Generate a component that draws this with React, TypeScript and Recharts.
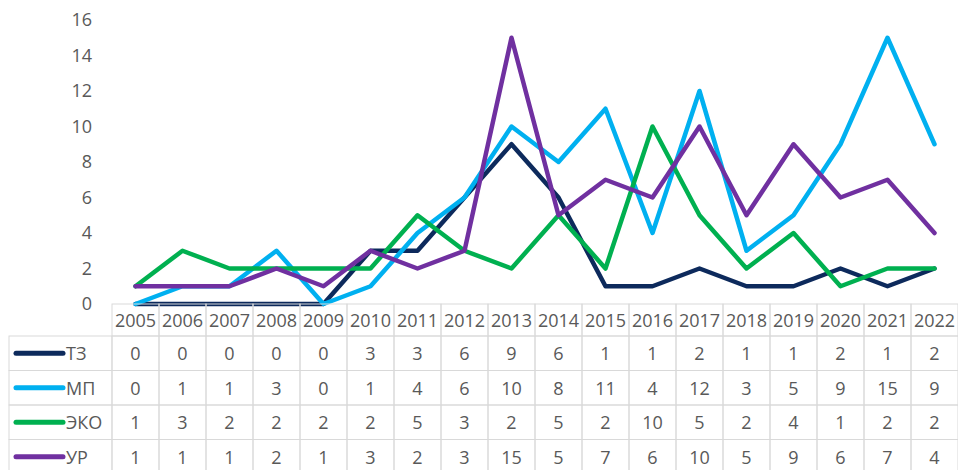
import React from 'react';
import { LineChart, Line, XAxis, YAxis } from 'recharts';

const years = ['2005','2006','2007','2008','2009','2010','2011','2012','2013','2014','2015','2016','2017','2018','2019','2020','2021','2022'];
const tz = [0,0,0,0,0,3,3,6,9,6,1,1,2,1,1,2,1,2];
const mp = [0,1,1,3,0,1,4,6,10,8,11,4,12,3,5,9,15,9];
const eko = [1,3,2,2,2,2,5,3,2,5,2,10,5,2,4,1,2,2];
const ur = [1,1,1,2,1,3,2,3,15,5,7,6,10,5,9,6,7,4];
const yTicks = [0,2,4,6,8,10,12,14,16];

const seriesNames = ['ТЗ', 'МП', 'ЭКО', 'УР'];
const seriesKeys = ['tz', 'mp', 'eko', 'ur'];
const seriesColors = ['#0d2a5c', '#00b0f0', '#00b050', '#7030a0'];
const seriesValues = [tz, mp, eko, ur];

const data = years.map((y, i) => ({ year: y, tz: tz[i], mp: mp[i], eko: eko[i], ur: ur[i] }));

const W = 958;
const H = 470;
const PLOT_LEFT = 112;
const PLOT_TOP = 20;
const AXIS_H = 166;
const BAND = (W - PLOT_LEFT) / years.length;
const HEADER_H = 32;
const ROW_H = 34.5;
const LEGEND_LEFT = 9;
const FONT = '"Open Sans", sans-serif';
const TEXT = '#595959';
const BORDER = '#d9d9d9';

const TableTick = (props: any) => {
  const { x, y, payload, index } = props;
  const i = payload && typeof payload.index === 'number' ? payload.index : index;
  const left = x - BAND / 2;
  const cells: any[] = [];
  cells.push(
    <rect key="h" x={left} y={y} width={BAND} height={HEADER_H} fill="none" stroke={BORDER} strokeWidth={1} />
  );
  cells.push(
    <text key="ht" x={x} y={y + HEADER_H / 2} textAnchor="middle" dominantBaseline="central" fontFamily={FONT} fontSize={18} fill={TEXT}>{payload.value}</text>
  );
  seriesValues.forEach((arr, r) => {
    const top = y + HEADER_H + r * ROW_H;
    cells.push(<rect key={'c' + r} x={left} y={top} width={BAND} height={ROW_H} fill="none" stroke={BORDER} strokeWidth={1} />);
    cells.push(
      <text key={'t' + r} x={x} y={top + ROW_H / 2} textAnchor="middle" dominantBaseline="central" fontFamily={FONT} fontSize={18} fill={TEXT}>{arr[i]}</text>
    );
  });
  if (i === 0) {
    seriesNames.forEach((name, r) => {
      const top = y + HEADER_H + r * ROW_H;
      const cy = top + ROW_H / 2;
      cells.push(<rect key={'l' + r} x={LEGEND_LEFT} y={top} width={left - LEGEND_LEFT} height={ROW_H} fill="none" stroke={BORDER} strokeWidth={1} />);
      cells.push(<line key={'ll' + r} x1={LEGEND_LEFT + 7} x2={LEGEND_LEFT + 54} y1={cy} y2={cy} stroke={seriesColors[r]} strokeWidth={5} strokeLinecap="round" />);
      cells.push(
        <text key={'lt' + r} x={LEGEND_LEFT + 57} y={cy} textAnchor="start" dominantBaseline="central" fontFamily={FONT} fontSize={18} fill={TEXT}>{name}</text>
      );
    });
  }
  return <g>{cells}</g>;
};

export default function App() {
  return (
    <div style={{ position: 'absolute', left: 0, top: 0, width: W, height: H, background: '#fff' }}>
      <LineChart width={W} height={H} data={data} margin={{ top: PLOT_TOP, right: 0, bottom: 0, left: 0 }}>
        <XAxis
          dataKey="year"
          scale="band"
          height={AXIS_H}
          axisLine={false}
          tickLine={false}
          tickSize={0}
          tickMargin={0}
          interval={0}
          tick={<TableTick />}
        />
        <YAxis
          width={PLOT_LEFT}
          domain={[0, 16]}
          ticks={yTicks}
          axisLine={false}
          tickLine={false}
          tickSize={0}
          tickMargin={20}
          tick={{ fontFamily: FONT, fontSize: 18, fill: TEXT }}
        />
        {seriesKeys.map((k, idx) => (
          <Line
            key={k}
            dataKey={k}
            name={seriesNames[idx]}
            stroke={seriesColors[idx]}
            strokeWidth={4.5}
            strokeLinejoin="round"
            strokeLinecap="round"
            dot={false}
            activeDot={false}
            type="linear"
            isAnimationActive={false}
          />
        ))}
      </LineChart>
    </div>
  );
}
